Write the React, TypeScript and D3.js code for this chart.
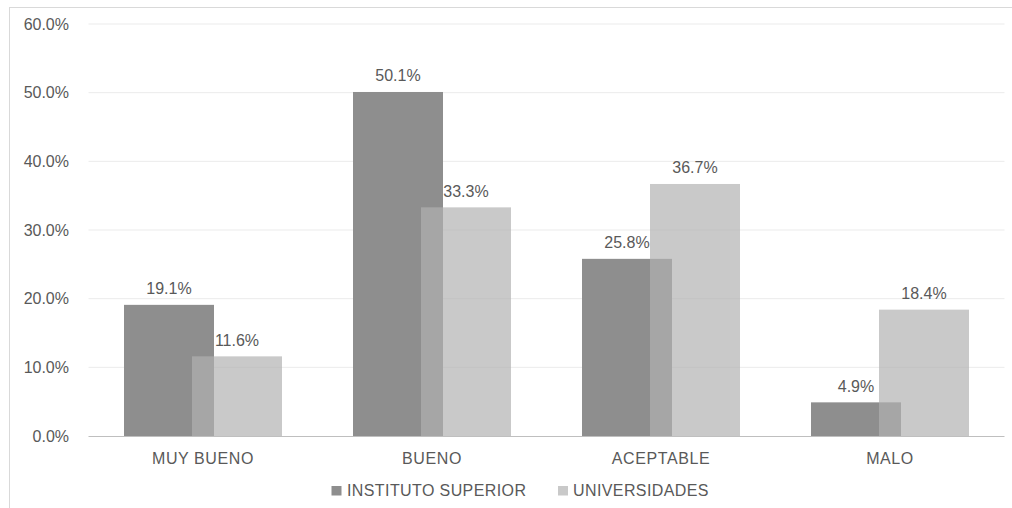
import React from "react";
import * as d3 from "d3";

const categories = ["MUY BUENO", "BUENO", "ACEPTABLE", "MALO"];
const instituto = [19.1, 50.1, 25.8, 4.9];
const universidades = [11.6, 33.3, 36.7, 18.4];
const yTicks = [0, 10, 20, 30, 40, 50, 60];
const seriesNames = ["INSTITUTO SUPERIOR", "UNIVERSIDADES"];

const W = 1012, H = 508;
const left = 88.5, right = 1004.5, top = 24, bottom = 436;
const FONT = "'Liberation Sans', Arial, Helvetica, sans-serif";
const TXT = "#595959";
const FS = 16;

export default function App() {
  const x = d3.scaleBand<string>().domain(categories).range([left, right]).paddingInner(0).paddingOuter(0);
  const y = d3.scaleLinear().domain([0, 60]).range([bottom, top]);
  const step = x.bandwidth();
  const barW = 90;
  const offset = 68;
  const groupW = barW + offset;
  const darkFill = "#8e8e8e";
  const lightFill = "rgb(177,177,177)";
  const lightOp = 0.69;
  return (
    <svg width={W} height={H} style={{ position: "absolute", left: 0, top: 0, background: "#fff" }}>
      <rect x={9.5} y={7.5} width={1010} height={520} fill="#fff" stroke="#d9d9d9" />
      {yTicks.map((t) => (
        <g key={t}>
          {t > 0 && <line x1={left} x2={right} y1={y(t)} y2={y(t)} stroke="#ebebeb" strokeWidth={1} />}
          <text x={69} y={y(t)} dy="0.35em" textAnchor="end" fontFamily={FONT} fontSize={FS} fill={TXT}>
            {d3.format(".1f")(t) + "%"}
          </text>
        </g>
      ))}
      {categories.map((c, i) => {
        const cx = (x(c) as number) + step / 2;
        const x0 = cx - groupW / 2;
        const x1 = x0 + offset;
        return (
          <g key={c}>
            <rect x={x0} y={y(instituto[i])} width={barW} height={bottom - y(instituto[i])} fill={darkFill} />
            <rect x={x1} y={y(universidades[i])} width={barW} height={bottom - y(universidades[i])} fill={lightFill} fillOpacity={lightOp} />
            <text x={x0 + barW / 2} y={y(instituto[i]) - 10.5} textAnchor="middle" fontFamily={FONT} fontSize={FS} fill={TXT}>
              {instituto[i].toFixed(1) + "%"}
            </text>
            <text x={x1 + barW / 2} y={y(universidades[i]) - 10.5} textAnchor="middle" fontFamily={FONT} fontSize={FS} fill={TXT}>
              {universidades[i].toFixed(1) + "%"}
            </text>
            <text x={cx} y={458} dy="0.35em" textAnchor="middle" fontFamily={FONT} fontSize={FS} fill={TXT} letterSpacing={0.6}>
              {c}
            </text>
          </g>
        );
      })}
      <line x1={left} x2={right} y1={bottom + 0.5} y2={bottom + 0.5} stroke="#bfbfbf" strokeWidth={1} />
      <g fontFamily={FONT} fontSize={FS} fill={TXT} letterSpacing={0.4}>
        <rect x={331.5} y={486} width={10} height={9.5} fill={darkFill} />
        <text x={347} y={490.5} dy="0.35em">{seriesNames[0]}</text>
        <rect x={558} y={486} width={10} height={9.5} fill={lightFill} fillOpacity={lightOp} />
        <text x={573} y={490.5} dy="0.35em">{seriesNames[1]}</text>
      </g>
    </svg>
  );
}
